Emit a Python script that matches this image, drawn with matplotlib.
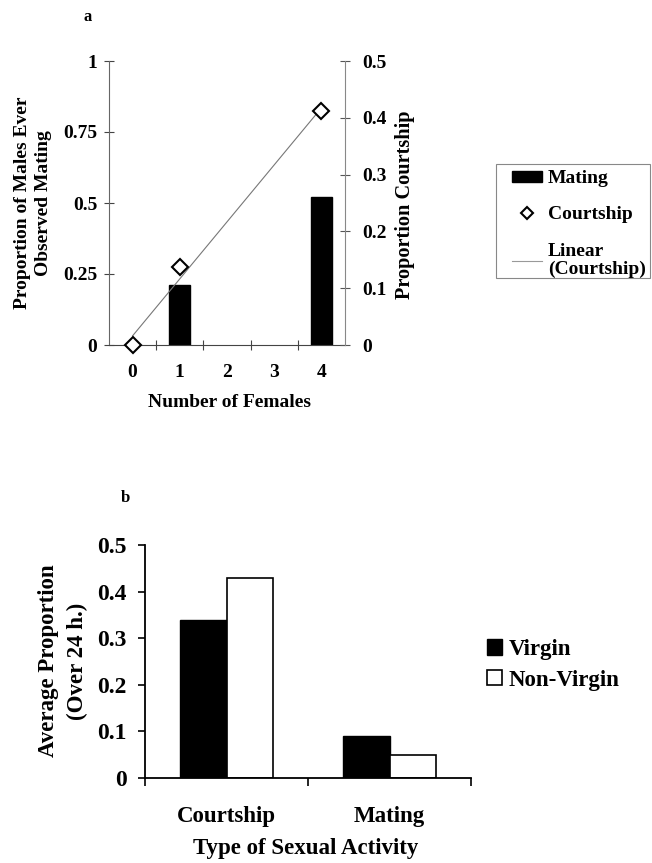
import numpy as np
import matplotlib
matplotlib.use("Agg")
import matplotlib.pyplot as plt
from matplotlib.lines import Line2D
from matplotlib.patches import Patch, Rectangle

plt.rcParams['font.family'] = ['Liberation Serif', 'DejaVu Serif']
plt.rcParams['font.weight'] = 'bold'

# panel a data
females = [0, 1, 2, 3, 4]
female_labels = ['0', '1', '2', '3', '4']
mating_x = [1, 4]
mating_prop = [0.21, 0.52]
court_x = [0, 1, 4]
court_prop = [0.0, 0.138, 0.412]

# panel b data
activities = ['Courtship', 'Mating']
virgin = [0.34, 0.09]
non_virgin = [0.43, 0.05]

W, H = 652, 863
fig = plt.figure(figsize=(W / 100, H / 100), dpi=100)


def fx(px):
    return px / W


def fy(py):
    return 1 - py / H


# ---------- panel a ----------
ax1 = fig.add_axes([fx(109), fy(345), fx(236), 284 / H])
ax1.bar(mating_x, mating_prop, width=0.45, color='black', edgecolor='black', zorder=2)
ax1.set_xlim(-0.5, 4.5)
ax1.set_ylim(0, 1)
ax1.set_yticks([0, 0.25, 0.5, 0.75, 1])
ax1.set_yticklabels(['0', '0.25', '0.5', '0.75', '1'])
ax1.set_xticks(females)
ax1.set_xticklabels(female_labels)
ax1.set_xticks([0.5, 1.5, 2.5, 3.5], minor=True)
ax1.tick_params(axis='x', which='major', length=0, pad=14, labelsize=14)
ax1.tick_params(axis='x', which='minor', direction='inout', length=7, width=0.8, color='#444444')
ax1.tick_params(axis='y', direction='inout', length=7, width=0.8, pad=5, labelsize=14, color='#444444')
ax1.spines['top'].set_visible(False)
ax1.spines['right'].set_visible(False)
for s in ['left', 'bottom']:
    ax1.spines[s].set_linewidth(0.8)
    ax1.spines[s].set_color('#444444')
ax1.spines['left'].set_color('#666666')

ax2 = ax1.twinx()
ax2.set_ylim(0, 0.5)
ax2.set_yticks([0, 0.1, 0.2, 0.3, 0.4, 0.5])
ax2.set_yticklabels(['0', '0.1', '0.2', '0.3', '0.4', '0.5'])
ax2.tick_params(axis='y', direction='inout', length=7, width=0.8, pad=9, labelsize=14, color='#555555')
ax2.spines['top'].set_visible(False)
ax2.spines['left'].set_visible(False)
ax2.spines['bottom'].set_visible(False)
ax2.spines['right'].set_linewidth(0.8)
ax2.spines['right'].set_color('#888888')

slope, intercept = np.polyfit(court_x, court_prop, 1)
fit_x = np.array([0, 4])
ax2.plot(fit_x, slope * fit_x + intercept, color='#777777', lw=0.8, zorder=3)
ax2.plot(court_x, court_prop, linestyle='none', marker='D', markersize=8.5,
         markerfacecolor='white', markeredgecolor='black', markeredgewidth=1.5,
         clip_on=False, zorder=4)

fig.text(fx(33), fy(203), 'Proportion of Males Ever\nObserved Mating', rotation=90,
         ha='center', va='center', fontsize=14, linespacing=1.3)
fig.text(fx(405), fy(205), 'Proportion Courtship', rotation=90,
         ha='center', va='center', fontsize=14.6)
fig.text(fx(229), fy(402), 'Number of Females', ha='center', va='center', fontsize=14)
fig.text(fx(88), fy(17), 'a', ha='center', va='center', fontsize=12)

# legend frame for panel a
fig.patches.append(Rectangle((fx(496), fy(278)), fx(154), 114 / H, transform=fig.transFigure,
                             facecolor='none', edgecolor='#888888', lw=0.8))
leg_a = [Patch(facecolor='black', edgecolor='black', label='Mating'),
         Line2D([], [], linestyle='none', marker='D', markersize=6.5, markerfacecolor='white',
                markeredgecolor='black', markeredgewidth=1.5, label='Courtship'),
         Line2D([], [], color='#999999', lw=0.8, label='Linear\n(Courtship)')]
la = fig.legend(handles=leg_a, loc='upper left', bbox_to_anchor=(fx(512), fy(170)),
                fontsize=14, frameon=False, borderpad=0,
                handlelength=1.55, handleheight=0.5, handletextpad=0.3,
                labelspacing=1.0, borderaxespad=0)
for t in la.get_texts():
    t.set_linespacing(1.05)

# ---------- panel b ----------
ax3 = fig.add_axes([fx(145), fy(778), fx(326), 233 / H])
x = np.arange(len(activities))
bw = 0.287
ax3.bar(x - bw / 2, virgin, width=bw, color='black', edgecolor='black', lw=1.0, label='Virgin')
ax3.bar(x + bw / 2, non_virgin, width=bw, color='white', edgecolor='black', lw=1.2, label='Non-Virgin')
ax3.set_xlim(-0.5, 1.5)
ax3.set_ylim(0, 0.5)
ax3.set_yticks([0, 0.1, 0.2, 0.3, 0.4, 0.5])
ax3.set_yticklabels(['0', '0.1', '0.2', '0.3', '0.4', '0.5'])
ax3.set_xticks(x)
ax3.set_xticklabels(activities)
ax3.set_xticks([-0.5, 0.5, 1.5], minor=True)
ax3.tick_params(axis='x', which='major', length=0, pad=20, labelsize=16.5)
ax3.tick_params(axis='x', which='minor', direction='out', length=6, width=1.2)
ax3.tick_params(axis='y', direction='out', length=5, width=1.2, pad=8, labelsize=17)
ax3.spines['top'].set_visible(False)
ax3.spines['right'].set_visible(False)
for s in ['left', 'bottom']:
    ax3.spines[s].set_linewidth(1.3)

fig.text(fx(63), fy(661), 'Average Proportion\n(Over 24 h.)', rotation=90,
         ha='center', va='center', fontsize=16.5, linespacing=1.45)
fig.text(fx(306), fy(848), 'Type of Sexual Activity', ha='center', va='center', fontsize=16.5)
fig.text(fx(125), fy(498), 'b', ha='center', va='center', fontsize=12)

fig.legend(*ax3.get_legend_handles_labels(), loc='upper left',
           bbox_to_anchor=(fx(487), fy(639)), fontsize=16.5, frameon=False,
           handlelength=0.65, handleheight=0.65, handletextpad=0.3,
           labelspacing=0.42, borderpad=0, borderaxespad=0)

fig.savefig('out.png', dpi=100)
